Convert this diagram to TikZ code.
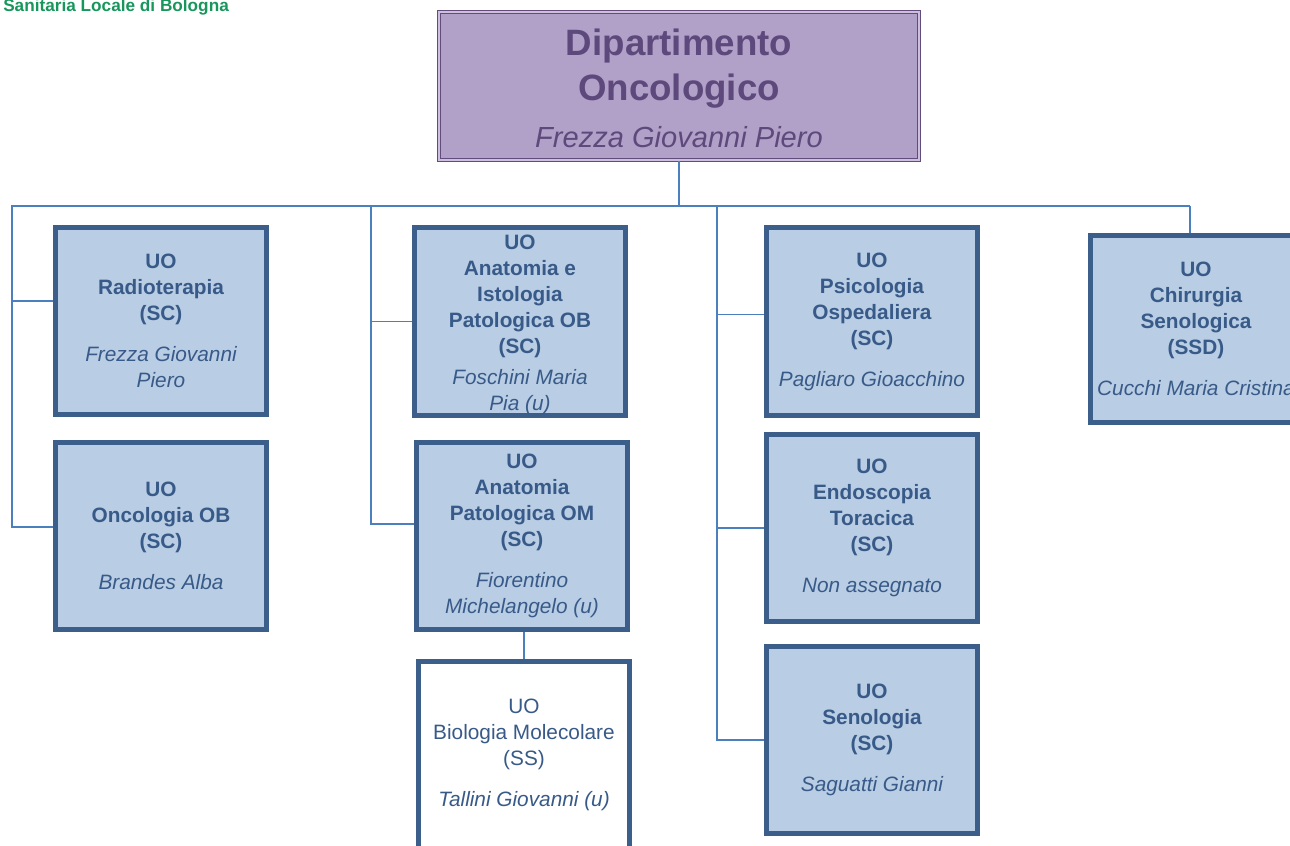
\documentclass[tikz,border=0pt]{standalone}
\usepackage{fontspec}
\setmainfont{Liberation Sans}
\usepackage{xcolor}
\usepackage{tikz}
\usetikzlibrary{calc}

\definecolor{uofill}{RGB}{185,205,228}
\definecolor{uoedge}{RGB}{59,94,139}
\definecolor{uotext}{RGB}{56,90,136}
\definecolor{dipfill}{RGB}{177,160,199}
\definecolor{dipgap}{RGB}{205,192,222}
\definecolor{dipedge}{RGB}{98,76,124}
\definecolor{diptext}{RGB}{94,73,124}
\definecolor{linkline}{RGB}{76,127,189}
\definecolor{logogreen}{RGB}{24,150,92}

% name lines are set upright-medium italic
\newcommand{\uoname}{\mdseries\itshape}

\tikzset{
  uo/.style={draw=uoedge, line width=3.6pt, fill=uofill, text=uotext,
    minimum width=158.5pt, minimum height=140.5pt, inner sep=0pt,
    align=center, font=\fontsize{15.6}{19.5}\selectfont\bfseries},
  uoss/.style={uo, fill=white, font=\fontsize{15.6}{19.5}\selectfont},
  dip/.style={draw=dipedge, line width=0.8pt, double=dipgap, double distance=1.4pt,
    fill=dipfill, text=diptext, minimum width=360pt, minimum height=111pt,
    inner sep=0pt, align=center, font=\fontsize{27.5}{33.75}\selectfont\bfseries},
  link/.style={draw=linkline, line width=1.4pt},
}

\begin{document}
\begin{tikzpicture}[x=0.75pt,y=0.75pt,yscale=-1,xscale=1]
\useasboundingbox (0,0) rectangle (1290,846);

% Text Node
\node [anchor=base west, inner sep=0pt, text=logogreen, font=\bfseries\fontsize{12.9}{15}\selectfont] (logo) at (3,11.5) {Sanitaria Locale di Bologna};

% Dipartimento
\node [dip] (dip) at (679,86) {\rule{0pt}{24pt}Dipartimento\\Oncologico\\[1.5pt]\fontsize{21.8}{26}\selectfont\mdseries\itshape Frezza Giovanni Piero};

% Left column
\node [uo] (radio) at (161,321) {UO\\Radioterapia\\(SC)\\[11pt]\uoname Frezza Giovanni\\\uoname Piero};
\node [uo] (onco) at (161,536) {UO\\Oncologia OB\\(SC)\\[11.25pt]\uoname Brandes Alba};

% Middle column
\node [uo] (anaist) at (520,321.5) {\rule{0pt}{16pt}UO\\Anatomia e\\Istologia\\Patologica OB\\(SC)\\[4pt]\uoname Foschini Maria\\\uoname Pia (u)};
\node [uo] (anapat) at (522,536) {UO\\Anatomia\\Patologica OM\\(SC)\\[11.25pt]\uoname Fiorentino\\\uoname Michelangelo (u)};
\node [uoss] (bio) at (524,755) {UO\\Biologia Molecolare\\(SS)\\[11.25pt]\itshape Tallini Giovanni (u)};

% Right column
\node [uo] (psico) at (872,321.5) {UO\\Psicologia\\Ospedaliera\\(SC)\\[11.25pt]\uoname Pagliaro Gioacchino};
\node [uo] (endo) at (872,528) {UO\\Endoscopia\\Toracica\\(SC)\\[11.25pt]\uoname Non assegnato};
\node [uo] (seno) at (872,740) {UO\\Senologia\\(SC)\\[11.25pt]\uoname Saguatti Gianni};

% Far right
\node [uo] (chir) at (1196,329) {UO\\Chirurgia\\Senologica\\(SSD)\\[11.25pt]\uoname Cucchi Maria Cristina};

% Bus
\coordinate (busW) at (11,206);
\coordinate (busE) at (1190,206);
\coordinate (colA) at (12,206);
\coordinate (colB) at (371,206);
\coordinate (colC) at (717,206);
\coordinate (radioIn) at ($(radio.west)+(0,-20)$);
\coordinate (oncoIn) at ($(onco.west)+(0,-9)$);
\coordinate (anapatIn) at ($(anapat.west)+(0,-12)$);
\coordinate (psicoIn) at ($(psico.west)+(0,-7)$);

\draw [link] (busW) -- (busE);
\draw [link] (dip.south) -- (dip.south |- busW);
\draw [link] (busE) -- (busE |- chir.north);

% branches
\draw [link] (colA) -- (colA |- oncoIn) -- (oncoIn);
\draw [link] (colA |- radioIn) -- (radioIn);
\draw [link] (colB) -- (colB |- anapatIn) -- (anapatIn);
\draw [link] (colB |- anaist.west) -- (anaist.west);
\draw [link] (colC) -- (colC |- seno.west) -- (seno.west);
\draw [link] (colC |- psicoIn) -- (psicoIn);
\draw [link] (colC |- endo.west) -- (endo.west);
\draw [link] (bio.north |- anapat.south) -- (bio.north);

\end{tikzpicture}
\end{document}
